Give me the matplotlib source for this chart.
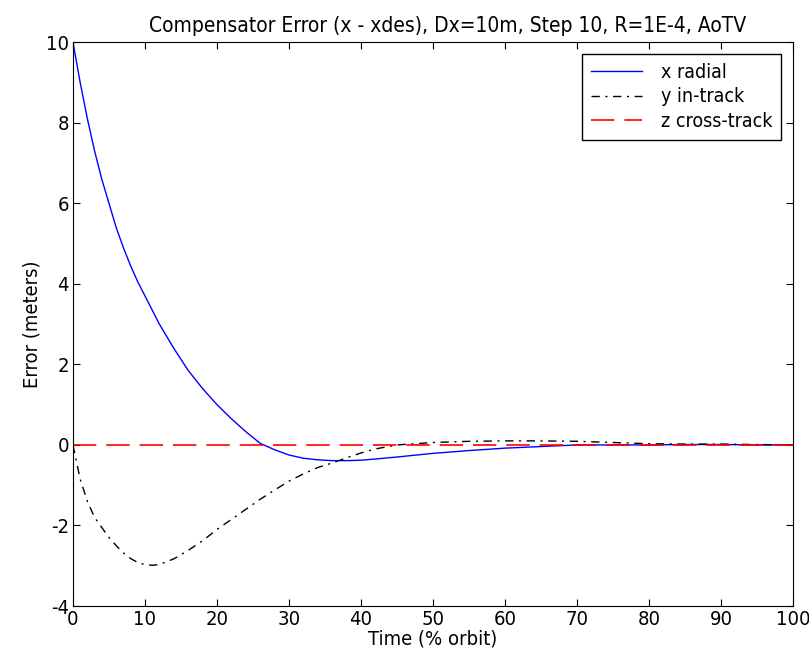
import matplotlib
matplotlib.use('Agg')
import matplotlib.pyplot as plt

plt.rcParams['font.family'] = ['DejaVu Sans']
plt.rcParams['font.stretch'] = 'condensed'
plt.rcParams['axes.unicode_minus'] = False

# time (% orbit)
t = [0, 1, 2, 3, 4, 5, 6, 7, 8, 9, 10, 11, 12, 14, 16, 18, 20, 22, 24, 26, 28, 30,
     32, 34, 36, 38, 40, 42, 45, 50, 55, 60, 65, 70, 75, 80, 85, 90, 95, 100]

x_radial = [10.0, 9.0, 8.1, 7.3, 6.6, 6.0, 5.4, 4.9, 4.45, 4.05, 3.7, 3.35, 3.0, 2.4, 1.85, 1.4, 1.0,
            0.65, 0.33, 0.04, -0.12, -0.25, -0.33, -0.37, -0.39, -0.39, -0.38, -0.35, -0.3, -0.21,
            -0.14, -0.08, -0.04, 0.0, 0.0, 0.0, 0.01, 0.01, 0.0, 0.0]

y_intrack = [0.0, -0.85, -1.4, -1.8, -2.05, -2.3, -2.5, -2.68, -2.82, -2.92, -2.97, -2.99, -2.97,
             -2.83, -2.62, -2.38, -2.1, -1.85, -1.6, -1.35, -1.12, -0.9, -0.72, -0.56, -0.45,
             -0.32, -0.2, -0.1, 0.0, 0.06, 0.09, 0.1, 0.1, 0.09, 0.06, 0.03, 0.02, 0.02, 0.01, 0.0]

z_crosstrack = [0.0] * len(t)

fig = plt.figure(figsize=(8.09, 6.68), dpi=100)
ax = fig.add_axes([0.0902, 0.0928, 0.890, 0.844])

ax.plot(t, x_radial, color='blue', lw=1, label='x radial')
ax.plot(t, y_intrack, color='black', lw=1, dashes=(6, 4, 1.5, 4), label='y in-track')
ax.plot(t, z_crosstrack, color='red', lw=1.2, dashes=(14, 6), label='z cross-track')

ax.set_xlim(0, 100)
ax.set_ylim(-4, 10)
ax.set_xticks(range(0, 101, 10))
ax.set_yticks(range(-4, 11, 2))
ax.tick_params(direction='in', top=True, right=True, labelsize=14.5, length=5, pad=3)
ax.set_xlabel('Time (% orbit)', fontsize=14.5, labelpad=0)
ax.set_ylabel('Error (meters)', fontsize=14.5, labelpad=3)
ax.set_title('Compensator Error (x - xdes), Dx=10m, Step 10, R=1E-4, AoTV', fontsize=15, pad=7, x=0.52)

leg = ax.legend(loc='upper right', fontsize=14, fancybox=False, framealpha=1,
                edgecolor='black', borderaxespad=0.6, handlelength=2.6,
                labelspacing=0.3, borderpad=0.45, handletextpad=1.0)
leg.get_frame().set_linewidth(1)

fig.savefig('out.png', dpi=100)
